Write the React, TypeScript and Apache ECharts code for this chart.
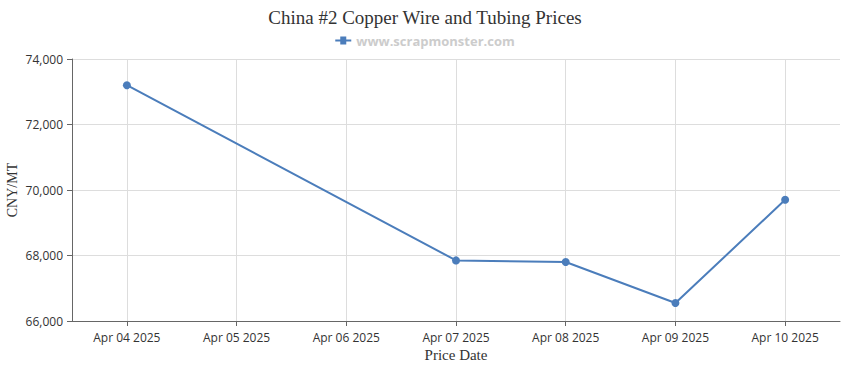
import React, { useEffect, useRef } from "react";
import * as echarts from "echarts";

const categories = [
  "Apr 04 2025",
  "Apr 05 2025",
  "Apr 06 2025",
  "Apr 07 2025",
  "Apr 08 2025",
  "Apr 09 2025",
  "Apr 10 2025",
];
const prices: (number | null)[] = [73200, null, null, 67850, 67800, 66550, 69700];
const seriesName = "www.scrapmonster.com";
const yMin = 66000;
const yMax = 74000;
const yInterval = 2000;

export default function App() {
  const ref = useRef<HTMLDivElement>(null);
  useEffect(() => {
    if (!ref.current) return;
    const chart = echarts.init(ref.current, undefined, { renderer: "svg" });
    chart.setOption({
      animation: false,
      backgroundColor: "#ffffff",
      title: {
        text: "China #2 Copper Wire and Tubing Prices",
        left: "center",
        top: 3,
        textStyle: {
          fontFamily: "Liberation Serif, serif",
          fontSize: 19,
          fontWeight: "normal",
          color: "#333333",
        },
      },
      legend: {
        top: 29,
        left: "center",
        itemWidth: 16,
        itemHeight: 8,
        itemGap: 4,
        data: [
          {
            name: seriesName,
            icon: "path://M0,3H5V0H11V3H16V5H11V8H5V5H0Z",
          },
        ],
        textStyle: {
          fontFamily: "Open Sans, sans-serif",
          fontSize: 13,
          fontWeight: "bold",
          color: "#cccccc",
        },
      },
      grid: {
        left: 72,
        right: 10,
        top: 59,
        bottom: 49,
        containLabel: false,
        outerBoundsMode: "none",
      },
      xAxis: {
        type: "category",
        data: categories,
        boundaryGap: true,
        name: "Price Date",
        nameLocation: "middle",
        nameGap: 26,
        nameMoveOverlap: false,
        nameTextStyle: {
          fontFamily: "Liberation Serif, serif",
          fontSize: 15,
          color: "#333333",
        },
        axisLine: { show: true, lineStyle: { color: "#666666", width: 1 } },
        axisTick: { show: true, alignWithLabel: true, length: 5, lineStyle: { color: "#666666" } },
        axisLabel: {
          margin: 10,
          fontFamily: "Open Sans, sans-serif",
          fontSize: 12,
          color: "#333333",
        },
        splitLine: { show: true, alignWithLabel: true, lineStyle: { color: "#dddddd", width: 1 } },
      },
      yAxis: {
        type: "value",
        min: yMin,
        max: yMax,
        interval: yInterval,
        name: "CNY/MT",
        nameLocation: "middle",
        nameGap: 53,
        nameMoveOverlap: false,
        nameTextStyle: {
          fontFamily: "Liberation Serif, serif",
          fontSize: 14,
          color: "#333333",
        },
        axisLine: { show: true, lineStyle: { color: "#666666", width: 1 } },
        axisTick: { show: true, length: 5, lineStyle: { color: "#666666" } },
        axisLabel: {
          margin: 9,
          fontFamily: "Open Sans, sans-serif",
          fontSize: 12,
          color: "#333333",
          formatter: (v: number) => v.toLocaleString("en-US"),
        },
        splitLine: { show: true, lineStyle: { color: "#dddddd", width: 1 } },
      },
      series: [
        {
          name: seriesName,
          type: "line",
          data: prices,
          connectNulls: true,
          symbol: "circle",
          symbolSize: 8,
          showSymbol: true,
          color: "#4b7dbb",
          lineStyle: { color: "#4b7dbb", width: 2 },
          itemStyle: { color: "#4b7dbb" },
        },
      ],
    });
    return () => chart.dispose();
  }, []);
  return (
    <div
      ref={ref}
      style={{ position: "fixed", left: 0, top: 0, width: 850, height: 370 }}
    />
  );
}
